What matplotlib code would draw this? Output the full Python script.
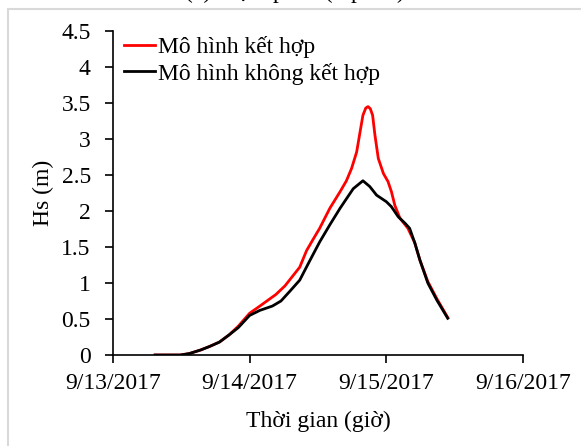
import pandas as pd
import matplotlib
matplotlib.use("Agg")
import matplotlib.pyplot as plt
import matplotlib.dates as mdates
from matplotlib.patches import Rectangle

plt.rcParams['font.family'] = ['Liberation Serif', 'DejaVu Serif']

start = pd.Timestamp('2017-09-13')

# hours since 9/13/2017 00:00, significant wave height (m)
hours_coupled = [7.4, 11.8, 13.4, 15.4, 17.0, 18.7, 20.4, 22.0, 24.0, 25.8, 27.2, 28.6,
                 30.2, 31.6, 32.8, 34.0, 35.1, 36.3, 38.1, 39.9, 41.0, 41.9, 42.8, 43.4,
                 43.9, 44.4, 44.8, 45.2, 45.6, 46.0, 46.6, 47.5, 48.3, 48.9, 49.5, 50.4,
                 51.8, 53.0, 53.9, 55.3, 56.9, 58.8]
hs_coupled = [0.0, 0.0, 0.02, 0.07, 0.12, 0.18, 0.28, 0.40, 0.58, 0.68, 0.76, 0.84,
              0.96, 1.10, 1.22, 1.45, 1.60, 1.76, 2.04, 2.27, 2.42, 2.59, 2.82, 3.10,
              3.33, 3.43, 3.45, 3.42, 3.33, 3.06, 2.73, 2.52, 2.41, 2.27, 2.08, 1.90,
              1.76, 1.56, 1.32, 1.02, 0.78, 0.52]

hours_uncoupled = [7.4, 11.8, 13.4, 15.4, 17.0, 18.7, 20.4, 22.0, 24.0, 25.8, 28.0, 29.5,
                   31.0, 32.8, 34.5, 36.3, 38.1, 39.9, 42.2, 43.9, 45.1, 46.3, 48.0, 48.9,
                   50.1, 51.3, 52.1, 53.0, 53.9, 55.3, 56.9, 58.8]
hs_uncoupled = [0.0, 0.0, 0.02, 0.07, 0.12, 0.18, 0.28, 0.38, 0.55, 0.62, 0.68, 0.75,
                0.88, 1.04, 1.30, 1.57, 1.81, 2.04, 2.31, 2.42, 2.34, 2.22, 2.13, 2.06,
                1.92, 1.83, 1.76, 1.56, 1.32, 1.00, 0.76, 0.51]

labels = ['Mô hình kết hợp', 'Mô hình không kết hợp']
title = '(a) Trạm phao (ở phao)'

t_c = start + pd.to_timedelta(hours_coupled, unit='h')
t_u = start + pd.to_timedelta(hours_uncoupled, unit='h')

fig = plt.figure(figsize=(5.81, 4.46), dpi=100)
ax = fig.add_axes([0.1945, 0.204, 0.7055, 0.7265])

ax.plot(t_c, hs_coupled, color='#ff0000', lw=2, label=labels[0])
ax.plot(t_u, hs_uncoupled, color='black', lw=2, label=labels[1])

ax.set_xlim(start, start + pd.Timedelta(days=3))
ax.set_ylim(0, 4.5)
ax.set_yticks([0, 0.5, 1, 1.5, 2, 2.5, 3, 3.5, 4, 4.5])
ax.set_yticklabels(['0', '0.5', '1', '1.5', '2', '2.5', '3', '3.5', '4', '4.5'])
ax.xaxis.set_major_locator(mdates.DayLocator())
ax.xaxis.set_major_formatter(
    plt.FuncFormatter(lambda v, p: (lambda d: f'{d.month}/{d.day}/{d.year}')(mdates.num2date(v))))

for s in ['top', 'right']:
    ax.spines[s].set_visible(False)
for s in ['left', 'bottom']:
    ax.spines[s].set_linewidth(1.2)
ax.tick_params(labelsize=17, length=6, width=1.2)
ax.tick_params(axis='y', pad=10)
ax.tick_params(axis='x', pad=7)
ax.set_ylabel('Hs (m)', fontsize=17, labelpad=5)
ax.set_xlabel('Thời gian (giờ)', fontsize=17, labelpad=12)

ax.legend(loc='upper left', frameon=False, fontsize=17, handlelength=1.3,
          handletextpad=0.15, borderaxespad=0, borderpad=0, labelspacing=0.2,
          bbox_to_anchor=(0.027, 0.985))

# light frame around the chart area, only its top and left edges fall on the canvas
fig.patches.append(Rectangle((7.5 / 581, -0.2), 1.2, 1.2 - 8.5 / 446,
                             transform=fig.transFigure, fill=False,
                             edgecolor='#d9d9d9', lw=1.5))
fig.text(0.508, 1.0 + 2 / 446, title, ha='center', va='baseline', fontsize=17)

fig.savefig('out.png', dpi=100)
